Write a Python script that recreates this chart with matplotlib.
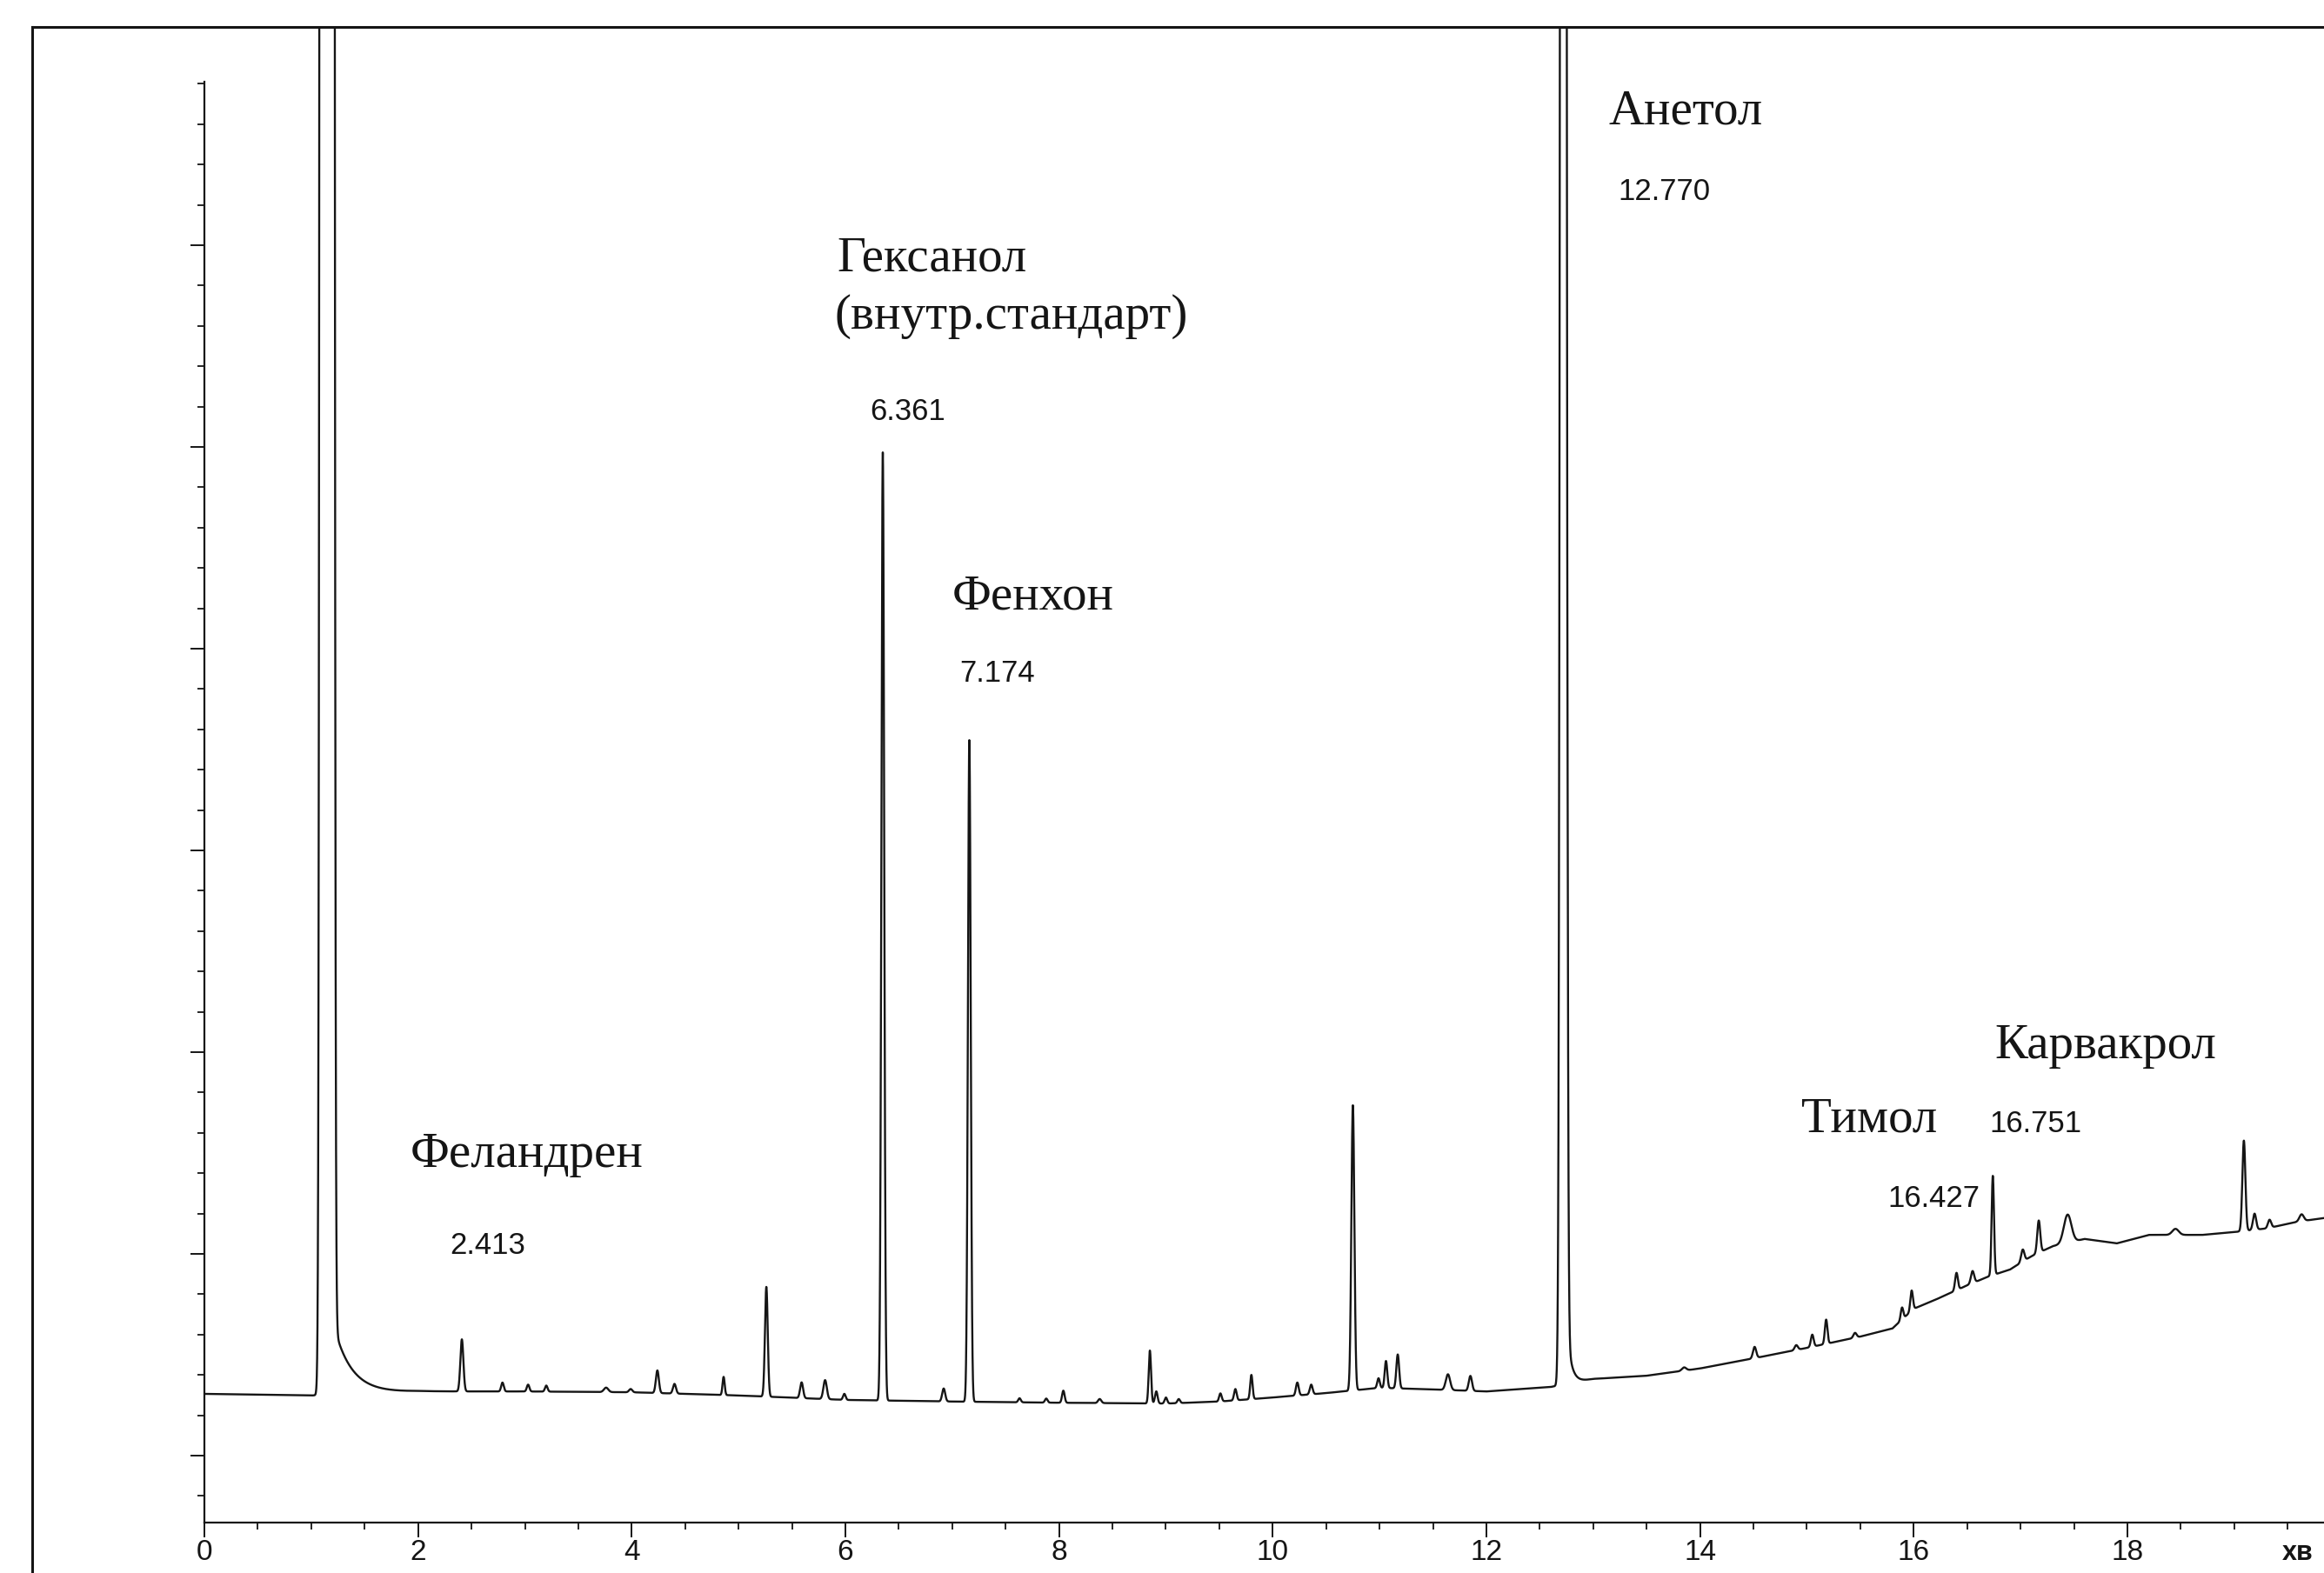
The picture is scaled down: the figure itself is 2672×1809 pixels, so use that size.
import numpy as np
import matplotlib.pyplot as plt
from matplotlib.lines import Line2D
from matplotlib.ticker import MultipleLocator

# chromatogram, time in minutes, signal in y-axis divisions

# baseline
baseline_times = [0, 1, 2, 3, 4, 5, 6, 7, 8, 9, 9.5, 10, 10.5, 11, 11.5, 12, 12.6, 13, 13.5,
                  14, 14.5, 15, 15.5, 15.8, 16, 16.2, 16.5, 16.7, 16.9, 17.1, 17.3, 17.6,
                  17.9, 18.2, 18.7, 19.0, 19.3, 19.6, 19.9]
baseline_levels = [1.53, 1.49, 1.59, 1.59, 1.57, 1.49, 1.38, 1.34, 1.31, 1.29, 1.34, 1.44, 1.55,
                   1.68, 1.64, 1.59, 1.70, 1.90, 1.98, 2.16, 2.41, 2.67, 2.95, 3.15, 3.64, 3.86,
                   4.22, 4.44, 4.61, 4.94, 5.19, 5.37, 5.26, 5.47, 5.47, 5.54, 5.63, 5.80, 5.91]

# peaks: retention time, height above baseline, width (sigma)
peak_times = [1.148, 2.41, 2.79, 3.03, 3.20, 3.76, 3.99, 4.24, 4.40, 4.86, 5.26, 5.59, 5.81, 5.99,
              6.35, 6.92, 7.16, 7.63, 7.88, 8.04, 8.38, 8.85, 8.91, 9.00, 9.12, 9.51, 9.65, 9.80,
              10.23, 10.36, 10.75, 10.99, 11.06, 11.17, 11.64, 11.85, 12.72, 13.85, 14.51, 14.90,
              15.05, 15.18, 15.45, 15.89, 15.98, 16.40, 16.55, 16.74, 17.02, 17.17, 17.44, 18.45,
              19.09, 19.19, 19.33, 19.63]
peak_heights = [10000, 1.29, 0.22, 0.17, 0.15, 0.11, 0.08, 0.56, 0.24, 0.45, 2.72, 0.39, 0.47, 0.15,
                23.5, 0.32, 16.4, 0.10, 0.10, 0.30, 0.10, 1.31, 0.30, 0.15, 0.10, 0.20, 0.28, 0.60,
                0.32, 0.24, 7.07, 0.24, 0.67, 0.84, 0.39, 0.37, 186, 0.08, 0.28, 0.12,
                0.30, 0.60, 0.12, 0.30, 0.50, 0.43, 0.30, 2.46, 0.30, 0.80, 0.70, 0.15,
                2.24, 0.40, 0.20, 0.17]
peak_widths = [0.0215, 0.014, 0.012, 0.012, 0.012, 0.020, 0.015, 0.014, 0.014, 0.010, 0.013, 0.014,
               0.016, 0.012, 0.013, 0.014, 0.013, 0.012, 0.012, 0.012, 0.015, 0.011, 0.012, 0.012,
               0.012, 0.012, 0.012, 0.011, 0.013, 0.013, 0.014, 0.012, 0.012, 0.013, 0.020, 0.015,
               0.0176, 0.020, 0.015, 0.015, 0.013, 0.012, 0.015, 0.012, 0.012, 0.013, 0.015, 0.011,
               0.015, 0.014, 0.035, 0.030, 0.014, 0.015, 0.015, 0.020]

# tailing after the solvent and anethole peaks
tail_starts = [1.22, 12.76]
tail_amps = [1.63, 1.2]
tail_decays = [0.166, 0.04]

# labels: text, x (min), y (divisions)
names = ["Феландрен", "Гексанол", "(внутр.стандарт)", "Фенхон", "Анетол", "Тимол", "Карвакрол"]
name_x = [1.93, 5.92, 5.90, 7.00, 13.14, 14.95, 16.76]
name_y = [7.16, 29.37, 27.93, 20.99, 33.0, 8.02, 9.85]

rt_labels = ["2.413", "6.361", "7.174", "12.770", "16.751", "16.427"]
rt_x = [2.30, 6.23, 7.07, 13.23, 16.71, 15.76]
rt_y = [5.00, 25.67, 19.18, 31.12, 8.02, 6.16]

t = np.linspace(0, 19.85, 25000)
signal = np.interp(t, baseline_times, baseline_levels)
for pt, ph, pw in zip(peak_times, peak_heights, peak_widths):
    signal = signal + ph * np.exp(-0.5 * ((t - pt) / pw) ** 2)
for ts, ta, td in zip(tail_starts, tail_amps, tail_decays):
    signal = signal + np.where(t >= ts, ta * np.exp(-(t - ts) / td), 0)

ink = '#151515'
fig = plt.figure(figsize=(26.72, 18.09), dpi=100)
ax = fig.add_axes([0.08795, 0.03206, 0.91205, 0.95080])

ax.plot(t, signal, color=ink, lw=1.7)
ax.set_xlim(0, 19.84)
ax.set_ylim(-1.66, 35.41)

for side in ['top', 'right']:
    ax.spines[side].set_visible(False)
ax.spines['left'].set_bounds(-1.66, 34.05)
for side in ['left', 'bottom']:
    ax.spines[side].set_linewidth(1.6)
    ax.spines[side].set_color(ink)

ax.xaxis.set_major_locator(MultipleLocator(2))
ax.xaxis.set_minor_locator(MultipleLocator(0.5))
ax.set_yticks(range(0, 35, 5))
ax.set_yticks(range(-1, 35), minor=True)
ax.set_yticklabels([])
ax.tick_params(axis='both', which='major', direction='out', color=ink, width=1.4)
ax.tick_params(axis='x', which='major', length=12.5, pad=1.5, labelsize=24, labelcolor=ink)
ax.tick_params(axis='y', which='major', length=11.5)
ax.tick_params(axis='both', which='minor', direction='out', length=6, width=1.3, color=ink)
for lab in ax.get_xticklabels():
    lab.set_fontfamily(['Liberation Sans Narrow', 'Liberation Sans'])

ax.text(19.45, -2.09, "хв", fontsize=22, family='Liberation Sans', fontweight='bold',
        color=ink, va='top', ha='left')

for s, x, y in zip(names, name_x, name_y):
    ax.text(x, y, s, fontsize=41, family='Liberation Serif', color=ink,
            ha='left', va='baseline')
for s, x, y in zip(rt_labels, rt_x, rt_y):
    ax.text(x, y, s, fontsize=25, family='Liberation Sans', color=ink,
            ha='left', va='baseline')

# page frame
fig.add_artist(Line2D([0.01385, 0.01385], [0, 0.98286], color=ink, lw=2.2,
                      transform=fig.transFigure))
fig.add_artist(Line2D([0.01385, 1.0], [0.98286, 0.98286], color=ink, lw=2.2,
                      transform=fig.transFigure))

fig.savefig('out.png', dpi=100)
